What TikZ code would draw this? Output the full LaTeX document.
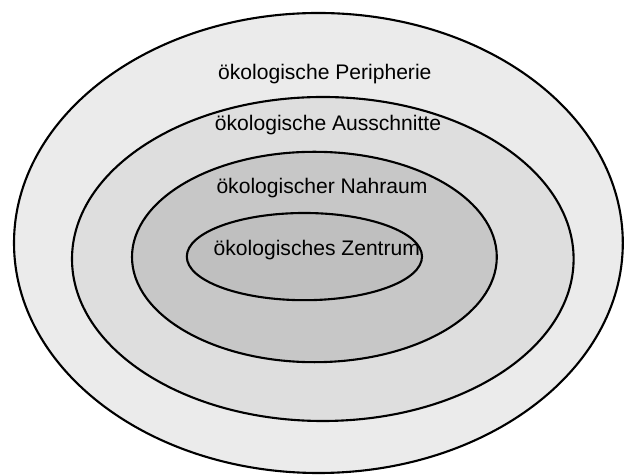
\documentclass[tikz,border=0pt]{standalone}
\usepackage{fontspec}
\setmainfont{Liberation Sans}
\usepackage{tikz}
\usetikzlibrary{positioning}

\begin{document}
\begin{tikzpicture}[thick]
\tikzset{ring/.style={draw=black, line width=1.5pt}, lbl/.style={inner sep=0pt, font=\fontsize{15}{18}\selectfont}}
\useasboundingbox (0,0) rectangle (15.6,11.875);
\path[ring, fill=gray!16] (7.96,5.8) ellipse [x radius=7.61, y radius=5.75];
\path[ring, fill=gray!26] (8.07,5.4) ellipse [x radius=6.27, y radius=4.05];
\path[ring, fill=gray!44] (7.86,5.45) ellipse [x radius=4.56, y radius=2.63];
\path[ring, fill=gray!50] (7.61,5.46) ellipse [x radius=2.94, y radius=1.09];
\node[lbl] (peri) at (8.12,10.02) {ökologische Peripherie};
\node[lbl] (aus) at (8.2,8.75) {ökologische Ausschnitte};
\node[lbl] (nahr) at (8.05,7.17) {ökologischer Nahraum};
\node[lbl] (zent) at (7.92,5.62) {ökologisches Zentrum};
\end{tikzpicture}
\end{document}
